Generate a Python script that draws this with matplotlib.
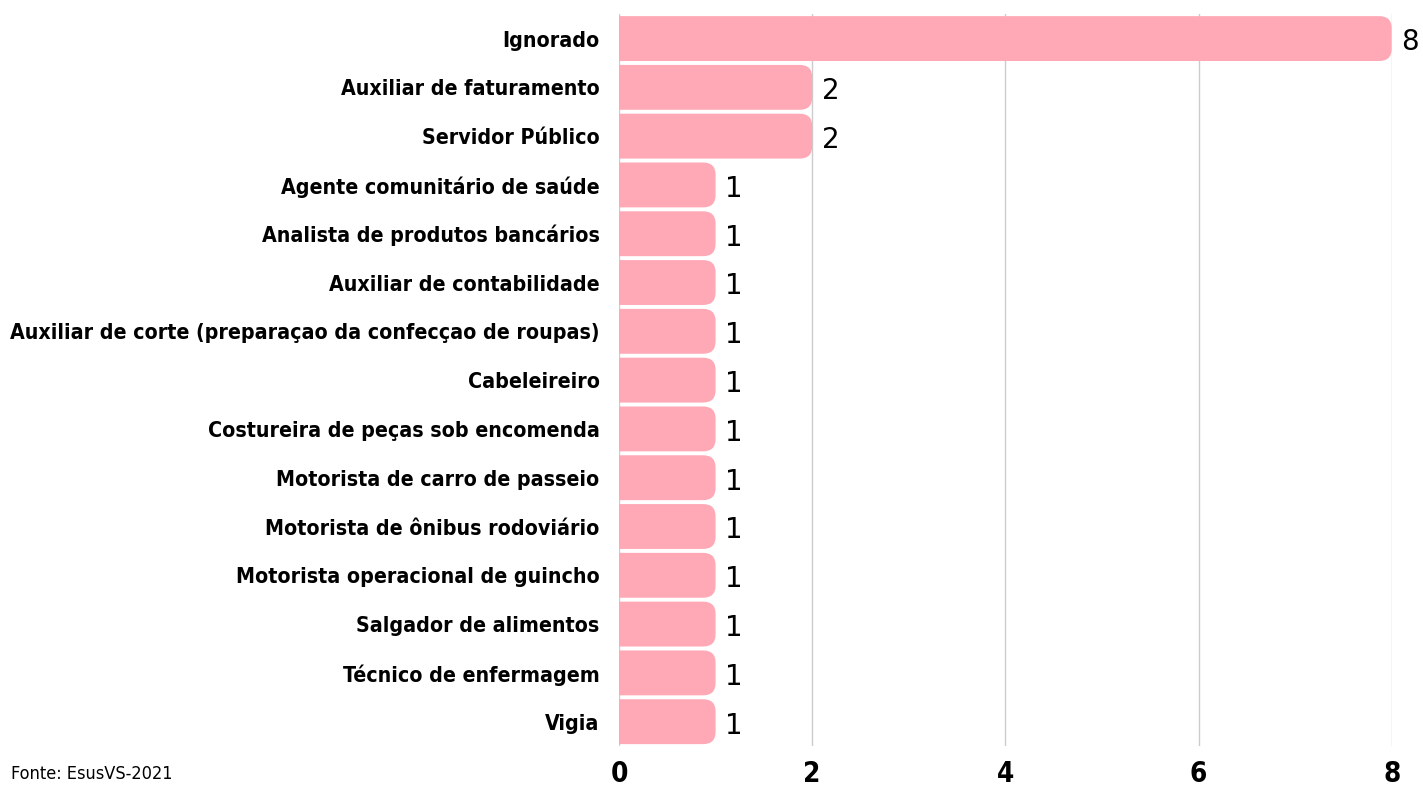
import matplotlib
matplotlib.use("Agg")
import matplotlib.pyplot as plt
from matplotlib import font_manager as fm
from matplotlib.patches import FancyBboxPatch

# data
ocupacoes = [
    "Ignorado",
    "Auxiliar de faturamento",
    "Servidor Público",
    "Agente comunitário de saúde",
    "Analista de produtos bancários",
    "Auxiliar de contabilidade",
    "Auxiliar de corte (preparaçao da confecçao de roupas)",
    "Cabeleireiro",
    "Costureira de peças sob encomenda",
    "Motorista de carro de passeio",
    "Motorista de ônibus rodoviário",
    "Motorista operacional de guincho",
    "Salgador de alimentos",
    "Técnico de enfermagem",
    "Vigia",
]
casos = [8, 2, 2, 1, 1, 1, 1, 1, 1, 1, 1, 1, 1, 1, 1]
x_ticks = [0, 2, 4, 6, 8]
fonte = "Fonte: EsusVS-2021"

# look for a narrow / condensed face among the installed fonts
cond_bold = None
cond_reg = None
for f in fm.fontManager.ttflist:
    name = (f.fname + " " + f.name).lower()
    narrow = ("narrow" in name or "condensed" in name
              or f.stretch in ("condensed", "semi-condensed"))
    if not narrow or "italic" in name or "oblique" in name:
        continue
    w = f.weight if isinstance(f.weight, int) else {"bold": 700, "normal": 400}.get(f.weight, 400)
    if w >= 700 and cond_bold is None:
        cond_bold = f.fname
    if w == 400 and cond_reg is None:
        cond_reg = f.fname

if cond_bold:
    lab_font = fm.FontProperties(fname=cond_bold, size=15.3)
    tick_font = fm.FontProperties(fname=cond_bold, size=20)
else:
    lab_font = fm.FontProperties(family="DejaVu Sans", weight="bold", size=13)
    tick_font = fm.FontProperties(family="DejaVu Sans", weight="bold", size=18)
if cond_reg:
    src_font = fm.FontProperties(fname=cond_reg, size=13)
else:
    src_font = fm.FontProperties(family="DejaVu Sans", size=12)

bar_color = "#ffa9b6"

fig = plt.figure(figsize=(14.23, 7.87), dpi=100)
ax = fig.add_axes([0.435, 0.052, 0.543, 0.930])

n = len(ocupacoes)
h = 0.92
ax.set_xlim(0, 8)
ax.set_ylim(n - 0.5, -0.5)

# bars with rounded right end (left end hidden behind the axes edge)
rx = 0.13
ry = 0.25
for i, v in enumerate(casos):
    p = FancyBboxPatch((-0.5, i - h / 2), v + 0.5, h,
                       boxstyle=f"round,pad=0,rounding_size={rx}",
                       mutation_aspect=ry / rx,
                       facecolor=bar_color, edgecolor="none", zorder=2)
    ax.add_patch(p)
    ax.text(v + 0.1, i + 0.08, str(v), va="center", ha="left",
            fontsize=20, color="black", family="DejaVu Sans", clip_on=False)

ax.set_yticks(range(n))
ax.set_yticklabels(ocupacoes, fontproperties=lab_font)
ax.set_xticks(x_ticks)
ax.set_xticklabels([str(t) for t in x_ticks], fontproperties=tick_font)
ax.tick_params(length=0)
ax.tick_params(axis="y", pad=14)
ax.tick_params(axis="x", pad=10)

ax.grid(axis="x", color="#cccccc", linewidth=1, zorder=0)
ax.set_axisbelow(True)
for s in ax.spines.values():
    s.set_visible(False)

fig.text(0.008, 0.005, fonte, fontproperties=src_font, va="bottom", ha="left")

fig.savefig("out.png", dpi=100)
